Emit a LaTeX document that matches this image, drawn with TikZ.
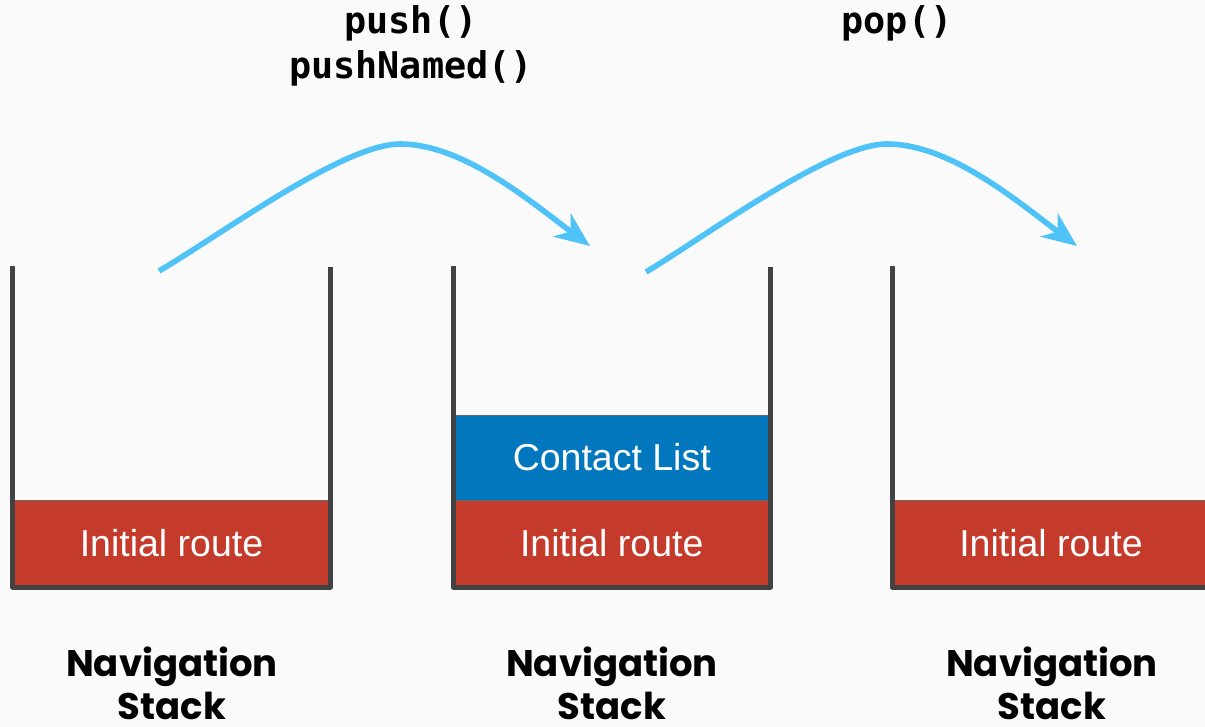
\documentclass[tikz,border=0pt]{standalone}
\usepackage{fontspec}
\setmainfont{Liberation Sans}
\newfontfamily\labfont{Poppins}
\newfontfamily\codefont{DejaVu Sans Mono}
\usetikzlibrary{arrows.meta}
\definecolor{bgc}{HTML}{FAFAFA}
\definecolor{wallc}{HTML}{424242}
\definecolor{redc}{HTML}{C43A2B}
\definecolor{bluec}{HTML}{0277BD}
\definecolor{arrc}{HTML}{4FC3F7}
\tikzset{
  wall/.style={draw=wallc, line width=5pt, line join=round, line cap=butt},
  route/.style={fill=redc, draw=wallc!80, line width=1pt, minimum width=318pt, minimum height=87pt, inner sep=0pt, text=white, font=\fontsize{37.5}{40}\selectfont},
  contact/.style={route, fill=bluec, minimum height=85pt, font=\fontsize{37.5}{40}\selectfont},
  navlabel/.style={align=center, inner sep=0pt, font=\labfont\bfseries\fontsize{37}{43}\selectfont, anchor=base},
  codelabel/.style={align=center, inner sep=0pt, font=\codefont\bfseries\fontsize{36.8}{45}\selectfont, anchor=base},
  flow/.style={draw=arrc, line width=5.6pt, -{Stealth[length=35pt, width=29pt, inset=11pt]}}
}
\begin{document}
\begin{tikzpicture}[x=1pt, y=-1pt]
\useasboundingbox (0,0) rectangle (1205,727);
\clip (0,0) rectangle (1205,727);
\fill[bgc] (0,0) rectangle (1205,727);

% stack 1
\node[route] (r1) at (171.5,543.5) {Initial route};
\draw[wall] (12.5,266) |- (330.5,587) -- (330.5,267);
\node[navlabel] (n1) at (172,719) {Navigation\\Stack};

% stack 2
\node[route, minimum width=317.5pt] (r2) at (611.75,543.5) {Initial route};
\node[contact, minimum width=317.5pt] (c2) at (611.75,457.5) {Contact List};
\draw[wall] (453,266) |- (770.5,587) -- (770.5,267);
\node[navlabel] (n2) at (612,719) {Navigation\\Stack};

% stack 3
\node[route] (r3) at (1051,543.5) {Initial route};
\draw[wall] (892,266) |- (1210,587) -- (1210,267);
\node[navlabel] (n3) at (1052,719) {Navigation\\Stack};

% labels
\node[codelabel] (t1) at (411,79) {push()\\pushNamed()};
\node[codelabel] (t2) at (897,34) {pop()};

% arrows
\coordinate (a1s) at (159,271);
\coordinate (a1e) at (590,246);
\coordinate (a2s) at (646,272);
\coordinate (a2e) at (1077,246);
\draw[flow] (a1s) .. controls (219,236) and (343,144) .. (400,144)
            .. controls (463,144) and (530,201) .. (a1e);
\draw[flow] (a2s) .. controls (706,236) and (830,144) .. (887,144)
            .. controls (950,144) and (1017,201) .. (a2e);
\end{tikzpicture}
\end{document}
